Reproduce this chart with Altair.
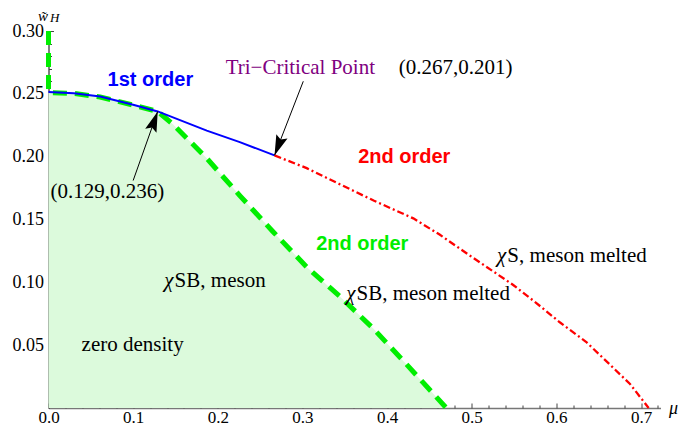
import math
import altair as alt
import pandas as pd

# ---------------- data ----------------
XMAX = 0.723
YMAX = 0.30

# green dashed boundary (2nd order, chiSB meson / chiSB meson melted)
green_mu = [0.0, 0.0, 0.030, 0.061, 0.100, 0.129, 0.147, 0.187, 0.226, 0.265, 0.305, 0.344, 0.384, 0.423, 0.470]
green_w = [0.300, 0.251, 0.2503, 0.2475, 0.2410, 0.236, 0.2258, 0.1987, 0.169, 0.1405, 0.1122, 0.0889, 0.063, 0.0347, 0.0]

# blue 1st order line
blue_mu = [0.0, 0.030, 0.061, 0.100, 0.129, 0.187, 0.226, 0.267]
blue_w = [0.2515, 0.2505, 0.2478, 0.2413, 0.236, 0.2207, 0.2116, 0.201]

# red dash-dot 2nd order line
red_mu = [0.267, 0.305, 0.344, 0.384, 0.431, 0.462, 0.498, 0.549, 0.576, 0.604, 0.635, 0.663, 0.687, 0.709]
red_w = [0.201, 0.1909, 0.1781, 0.1651, 0.1509, 0.138, 0.1212, 0.0979, 0.0837, 0.0682, 0.0527, 0.0347, 0.0191, 0.0]

# annotation arrows: start -> end (end is the marked point)
arrow_mu = [0.100, 0.301]
arrow_w = [0.181, 0.260]
arrow_mu2 = [0.129, 0.267]
arrow_w2 = [0.236, 0.201]

# plain serif labels (centered)
plain_text = ["zero density", "(0.129,0.236)", "(0.267,0.201)"]
plain_mu = [0.0994, 0.0697, 0.4809]
plain_w = [0.045, 0.1669, 0.2659]

# chi labels: anchor between the italic chi and the rest
chi_rest = ["SB, meson", "SB, meson melted", "S, meson melted"]
chi_mu = [0.149, 0.3639, 0.5421]
chi_w = [0.0959, 0.0863, 0.1165]

# tri-critical label
tri_text = ["Tri\u2212Critical Point"]
tri_mu = [0.2975]
tri_w = [0.2659]

# bold order labels
order_text = ["1st order", "2nd order", "2nd order"]
order_mu = [0.1204, 0.4203, 0.3707]
order_w = [0.2564, 0.1948, 0.1256]
order_col = ["#0000ff", "#ff0000", "#00ee00"]

x_major = [0.0, 0.1, 0.2, 0.3, 0.4, 0.5, 0.6, 0.7]
x_minor = [round(0.02 * i, 2) for i in range(1, 37) if i % 5 != 0]
y_major = [0.05, 0.10, 0.15, 0.20, 0.25, 0.30]
y_minor = [round(0.01 * i, 2) for i in range(1, 30) if i % 5 != 0]

# ---------------- layout ----------------
W, H = 612, 377
SERIF = "Liberation Serif"
SANS = "Liberation Sans"

xs = alt.Scale(domain=[0, XMAX], nice=False, zero=False)
ys = alt.Scale(domain=[0, YMAX], nice=False, zero=False)

green_df = pd.DataFrame({"mu": green_mu, "w": green_w, "o": list(range(len(green_mu)))})
area_df = green_df.iloc[1:].reset_index(drop=True)
blue_df = pd.DataFrame({"mu": blue_mu, "w": blue_w})
red_df = pd.DataFrame({"mu": red_mu, "w": red_w})

pxx = W / XMAX
pxy = H / YMAX
angles = []
for a, b, c, d in zip(arrow_mu, arrow_w, arrow_mu2, arrow_w2):
    dx = (c - a) * pxx
    dy = -(d - b) * pxy
    angles.append(math.degrees(math.atan2(dx, -dy)) % 360)
arrow_df = pd.DataFrame({"mu": arrow_mu, "w": arrow_w, "mu2": arrow_mu2, "w2": arrow_w2, "ang": angles})

plain_df = pd.DataFrame({"mu": plain_mu, "w": plain_w, "t": plain_text})
chi_df = pd.DataFrame({"mu": chi_mu, "w": chi_w, "t": chi_rest, "c": ["\u03c7"] * 3})
tri_df = pd.DataFrame({"mu": tri_mu, "w": tri_w, "t": tri_text})
order_df = pd.DataFrame({"mu": order_mu, "w": order_w, "t": order_text, "col": order_col})

# main axes (labels + domain lines)
x_main_axis = alt.Axis(
    values=x_major, format=".1f", ticks=False, labelFlush=False, labelOverlap=False,
    labelFont=SERIF, labelFontSize=17, labelColor="black", labelPadding=1,
    domainColor="#777777", domainWidth=1.3, grid=False,
    title="\u03bc\u0303", titleFont=SERIF, titleFontStyle="italic", titleFontWeight="normal",
    titleFontSize=18, titleColor="black", titleX=W + 8, titleY=0,
    titleAlign="left", titleBaseline="middle", titleAngle=0,
)
y_main_axis = alt.Axis(
    values=y_major, format=".2f", ticks=False, labelFlush=False, labelOverlap=False,
    labelFont=SERIF, labelFontSize=18, labelColor="black", labelPadding=5,
    domainColor="black", domainWidth=1, grid=False,
    title="w\u0303", titleFont=SERIF, titleFontStyle="italic", titleFontWeight="normal",
    titleFontSize=15, titleColor="black", titleX=-6, titleY=-22.5,
    titleAlign="center", titleBaseline="top", titleAngle=0,
)
# inward major ticks
x_major_ticks = alt.Axis(
    orient="top", offset=-H, values=x_major, labels=False, domain=False,
    ticks=True, tickSize=5, tickColor="#444444", tickWidth=1, grid=False, title=None,
)
y_major_ticks = alt.Axis(
    orient="right", offset=-W, values=y_major, labels=False, domain=False,
    ticks=True, tickSize=5, tickColor="#444444", tickWidth=1, grid=False,
    title="H", titleFont=SERIF, titleFontStyle="italic", titleFontWeight="normal",
    titleFontSize=13, titleColor="black", titleX=1, titleY=-9.5,
    titleAlign="left", titleBaseline="alphabetic", titleAngle=0,
)
# inward minor ticks
x_minor_ticks = alt.Axis(
    orient="top", offset=-H, values=x_minor, labels=False, domain=False,
    ticks=True, tickSize=3, tickColor="#444444", tickWidth=1, grid=False, title=None,
)
y_minor_ticks = alt.Axis(
    orient="right", offset=-W, values=y_minor, labels=False, domain=False,
    ticks=True, tickSize=3, tickColor="#444444", tickWidth=1, grid=False, title=None,
)


def X(axis=None, field="mu"):
    if axis is None:
        return alt.X(f"{field}:Q", scale=xs, axis=None)
    return alt.X(f"{field}:Q", scale=xs, axis=axis)


def Y(axis=None, field="w"):
    if axis is None:
        return alt.Y(f"{field}:Q", scale=ys, axis=None)
    return alt.Y(f"{field}:Q", scale=ys, axis=axis)


area = alt.Chart(area_df).mark_area(fill="#dcfadc", stroke=None, opacity=1).encode(
    x=X(x_main_axis), y=Y(y_main_axis)
)

green_line = alt.Chart(green_df).mark_line(
    color="#00ee00", strokeWidth=5, strokeDash=[14, 8], strokeCap="butt"
).encode(x=X(x_major_ticks), y=Y(y_major_ticks), order="o:Q")

blue_line = alt.Chart(blue_df).mark_line(color="#0000ff", strokeWidth=2).encode(
    x=X(x_minor_ticks), y=Y(y_minor_ticks)
)

red_line = alt.Chart(red_df).mark_line(
    color="#ff0000", strokeWidth=2.3, strokeDash=[7, 3, 2, 3]
).encode(x=X(), y=Y())

arrow_lines = alt.Chart(arrow_df).mark_rule(color="black", strokeWidth=1).encode(
    x=X(), y=Y(), x2="mu2:Q", y2="w2:Q"
)

arrow_heads = alt.Chart(arrow_df).mark_point(
    shape="M0,0L1.2,4.1L0,3.4L-1.2,4.1Z", filled=True, fill="black", stroke=None,
    size=100, opacity=1,
).encode(x=X(field="mu2"), y=Y(field="w2"), angle=alt.Angle("ang:Q", scale=None))

plain_labels = alt.Chart(plain_df).mark_text(
    font=SERIF, fontSize=21, color="black", align="center", baseline="alphabetic"
).encode(x=X(), y=Y(), text="t:N")

chi_rest_labels = alt.Chart(chi_df).mark_text(
    font=SERIF, fontSize=21, color="black", align="left", baseline="alphabetic"
).encode(x=X(), y=Y(), text="t:N")

chi_labels = alt.Chart(chi_df).mark_text(
    font=SERIF, fontSize=21, fontStyle="italic", color="black", align="right", baseline="alphabetic", dx=-1
).encode(x=X(), y=Y(), text="c:N")

tri_labels = alt.Chart(tri_df).mark_text(
    font=SERIF, fontSize=21, color="#800080", align="center", baseline="alphabetic"
).encode(x=X(), y=Y(), text="t:N")

order_labels = alt.Chart(order_df).mark_text(
    font=SANS, fontSize=20, fontWeight="bold", align="center", baseline="alphabetic"
).encode(x=X(), y=Y(), text="t:N", color=alt.Color("col:N", scale=None))

chart = alt.layer(
    area, green_line, blue_line, red_line, arrow_lines, arrow_heads,
    plain_labels, chi_rest_labels, chi_labels, tri_labels, order_labels,
).resolve_axis(
    x="independent", y="independent"
).properties(
    width=W, height=H,
    autosize=alt.AutoSizeParams(type="none"),
    padding={"left": 40.5, "top": 23, "right": 17, "bottom": 20},
    background="white",
).configure_view(stroke=None)

chart.save("out.html", embed_options={"renderer": "svg", "actions": False})
